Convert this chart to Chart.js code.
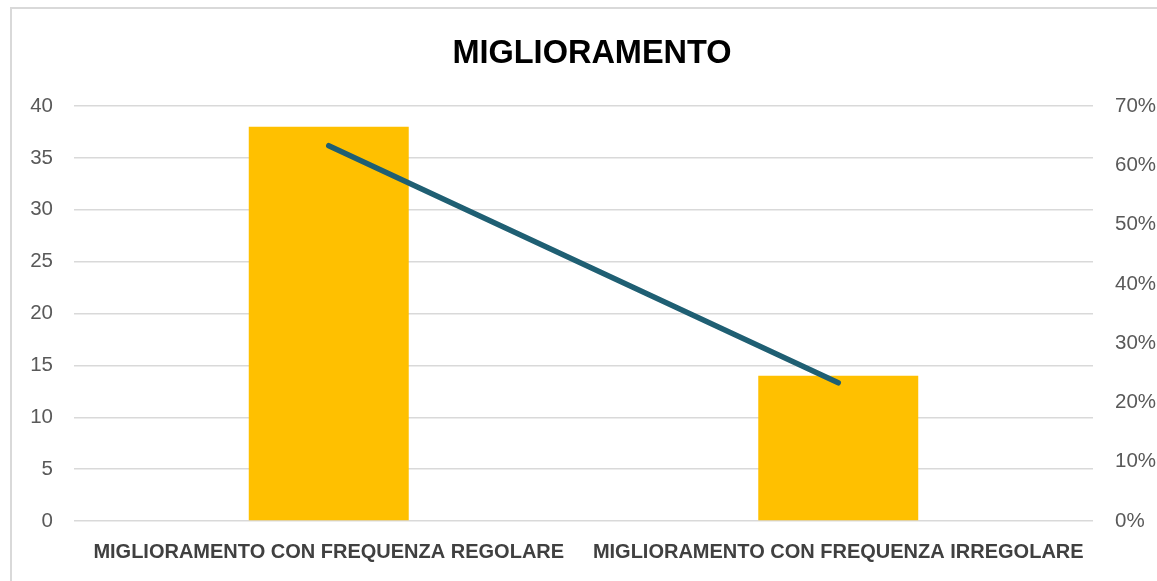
<!DOCTYPE html>
<html>
<head>
<meta charset="utf-8">
<script src="https://cdn.jsdelivr.net/npm/chart.js@4"></script>
<style>
  html, body { margin: 0; padding: 0; background: #fff; }
  #cornice { position: absolute; left: 10px; top: 7px; width: 1160px; height: 590px; border: 2px solid #d9d9d9; }
  #box { position: absolute; left: 0; top: 0; width: 1157px; height: 581px; }
</style>
</head>
<body>
<div id="cornice"></div>
<div id="box"><canvas id="grafico"></canvas></div>
<script>
// dati
const categorie = ['MIGLIORAMENTO CON FREQUENZA REGOLARE', 'MIGLIORAMENTO CON FREQUENZA IRREGOLARE'];
const valoriBarre = [38, 14];
const percentuali = [0.633, 0.233];
const tickSinistra = [0, 5, 10, 15, 20, 25, 30, 35, 40];
const tickDestra = [0, 0.1, 0.2, 0.3, 0.4, 0.5, 0.6, 0.7];

const ctx = document.getElementById('grafico').getContext('2d');
new Chart(ctx, {
  type: 'bar',
  data: {
    labels: categorie,
    datasets: [{
      type: 'line',
      data: percentuali,
      yAxisID: 'y1',
      borderColor: '#1f5f73',
      borderWidth: 5.5,
      borderCapStyle: 'round',
      pointRadius: 0,
      tension: 0,
      order: 0
    }, {
      type: 'bar',
      data: valoriBarre,
      yAxisID: 'y',
      backgroundColor: '#FFC000',
      categoryPercentage: 1,
      barPercentage: 0.314,
      order: 1
    }]
  },
  options: {
    responsive: true,
    maintainAspectRatio: false,
    animation: false,
    // il padding a sinistra sposta il titolo verso destra come nell'originale
    layout: { padding: { left: 27, right: 0, top: 0, bottom: 0 } },
    plugins: {
      legend: { display: false },
      tooltip: { enabled: false },
      title: {
        display: true,
        text: 'MIGLIORAMENTO',
        color: '#000',
        font: { family: 'Liberation Sans', size: 32.5, weight: 'bold', lineHeight: 1.2 },
        padding: { top: 35, bottom: 32 }
      }
    },
    scales: {
      x: {
        grid: { display: false, drawTicks: false },
        border: { display: false },
        ticks: {
          color: '#404040',
          font: { family: 'Liberation Sans', size: 20, weight: 'bold' },
          padding: 19,
          maxRotation: 0
        },
        afterFit: s => { s.height = 60; }
      },
      y: {
        position: 'left',
        min: 0,
        max: 40,
        afterBuildTicks: s => { s.ticks = tickSinistra.map(v => ({ value: v })); },
        grid: { color: '#d9d9d9', lineWidth: 1.5, drawTicks: false },
        border: { display: false },
        ticks: {
          color: '#595959',
          font: { family: 'Liberation Sans', size: 20.5 },
          padding: 21
        },
        afterFit: s => { s.width = 47; }
      },
      y1: {
        position: 'right',
        min: 0,
        max: 0.7,
        afterBuildTicks: s => { s.ticks = tickDestra.map(v => ({ value: v })); },
        grid: { display: false, drawTicks: false },
        border: { display: false },
        ticks: {
          color: '#595959',
          font: { family: 'Liberation Sans', size: 20.5 },
          padding: 22,
          callback: v => Math.round(v * 100) + '%'
        },
        afterFit: s => { s.width = 64; }
      }
    }
  }
});
</script>
</body>
</html>
